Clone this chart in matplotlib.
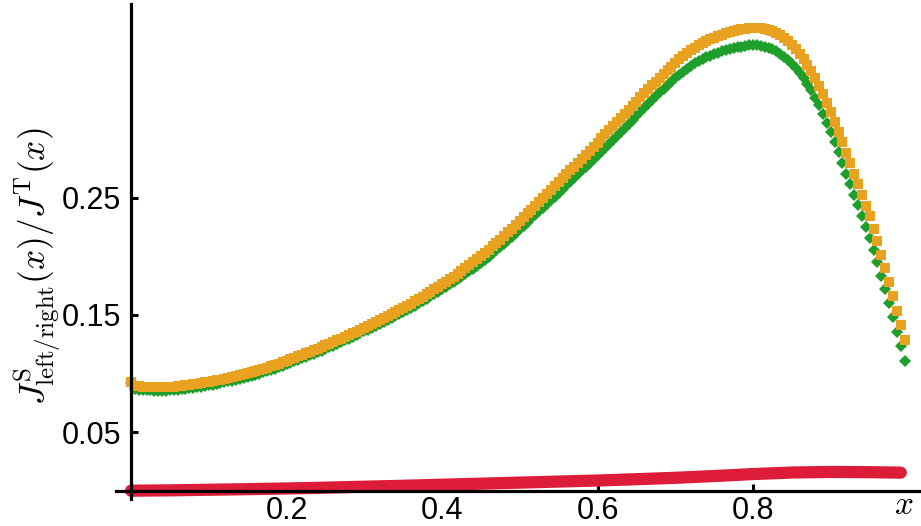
import numpy as np
import matplotlib
matplotlib.use("Agg")
import matplotlib.pyplot as plt

# sample positions (x step 0.005)
x_points = np.round(np.arange(200) * 0.005, 3)

# orange squares (J^S_right / J^T)
orange_vals = [
    0.0930, 0.0897, 0.0891, 0.0888, 0.0886, 0.0885, 0.0884, 0.0884, 0.0884, 0.0884,
    0.0885, 0.0888, 0.0891, 0.0895, 0.0899, 0.0903, 0.0908, 0.0913, 0.0918, 0.0924,
    0.0930, 0.0936, 0.0942, 0.0948, 0.0955, 0.0962, 0.0969, 0.0976, 0.0984, 0.0992,
    0.1000, 0.1009, 0.1019, 0.1029, 0.1039, 0.1050, 0.1061, 0.1072, 0.1084, 0.1096,
    0.1110, 0.1122, 0.1134, 0.1147, 0.1160, 0.1173, 0.1186, 0.1199, 0.1212, 0.1226,
    0.1240, 0.1254, 0.1268, 0.1283, 0.1298, 0.1313, 0.1328, 0.1343, 0.1358, 0.1374,
    0.1390, 0.1406, 0.1422, 0.1438, 0.1455, 0.1472, 0.1489, 0.1506, 0.1524, 0.1542,
    0.1560, 0.1578, 0.1597, 0.1616, 0.1636, 0.1656, 0.1676, 0.1696, 0.1717, 0.1738,
    0.1760, 0.1782, 0.1804, 0.1827, 0.1850, 0.1874, 0.1898, 0.1922, 0.1947, 0.1973,
    0.2000, 0.2027, 0.2055, 0.2084, 0.2113, 0.2143, 0.2173, 0.2204, 0.2235, 0.2267,
    0.2300, 0.2333, 0.2366, 0.2399, 0.2432, 0.2465, 0.2498, 0.2531, 0.2564, 0.2597,
    0.2630, 0.2664, 0.2698, 0.2732, 0.2766, 0.2800, 0.2834, 0.2868, 0.2902, 0.2936,
    0.2970, 0.3005, 0.3040, 0.3075, 0.3110, 0.3145, 0.3180, 0.3215, 0.3250, 0.3285,
    0.3320, 0.3355, 0.3390, 0.3424, 0.3458, 0.3491, 0.3524, 0.3556, 0.3588, 0.3619,
    0.3650, 0.3680, 0.3708, 0.3734, 0.3758, 0.3780, 0.3800, 0.3818, 0.3835, 0.3851,
    0.3865, 0.3878, 0.3890, 0.3901, 0.3911, 0.3920, 0.3928, 0.3936, 0.3943, 0.3948,
    0.3951, 0.3950, 0.3947, 0.3941, 0.3932, 0.3920, 0.3905, 0.3886, 0.3862, 0.3834,
    0.3802, 0.3766, 0.3726, 0.3682, 0.3634, 0.3580, 0.3520, 0.3454, 0.3383, 0.3307,
    0.3228, 0.3146, 0.3061, 0.2974, 0.2885, 0.2795, 0.2704, 0.2614, 0.2523, 0.2431,
    0.2340, 0.2235, 0.2127, 0.2015, 0.1899, 0.1780, 0.1659, 0.1536, 0.1411, 0.1285,
]

# green diamonds (J^S_left / J^T)
green_vals = [
    0.0915, 0.0867, 0.0861, 0.0858, 0.0856, 0.0855, 0.0854, 0.0854, 0.0854, 0.0854,
    0.0855, 0.0858, 0.0861, 0.0865, 0.0869, 0.0873, 0.0878, 0.0883, 0.0888, 0.0894,
    0.0900, 0.0906, 0.0912, 0.0918, 0.0925, 0.0932, 0.0939, 0.0946, 0.0954, 0.0962,
    0.0970, 0.0979, 0.0989, 0.0999, 0.1009, 0.1020, 0.1031, 0.1042, 0.1054, 0.1066,
    0.1080, 0.1092, 0.1104, 0.1117, 0.1130, 0.1143, 0.1156, 0.1169, 0.1182, 0.1196,
    0.1210, 0.1224, 0.1238, 0.1253, 0.1268, 0.1283, 0.1298, 0.1313, 0.1328, 0.1344,
    0.1360, 0.1375, 0.1391, 0.1406, 0.1423, 0.1439, 0.1456, 0.1472, 0.1490, 0.1507,
    0.1525, 0.1542, 0.1561, 0.1579, 0.1599, 0.1618, 0.1638, 0.1657, 0.1678, 0.1698,
    0.1720, 0.1740, 0.1761, 0.1782, 0.1804, 0.1826, 0.1849, 0.1871, 0.1895, 0.1919,
    0.1945, 0.1970, 0.1997, 0.2024, 0.2052, 0.2080, 0.2109, 0.2138, 0.2168, 0.2198,
    0.2230, 0.2261, 0.2292, 0.2323, 0.2354, 0.2385, 0.2416, 0.2447, 0.2478, 0.2509,
    0.2540, 0.2572, 0.2604, 0.2636, 0.2668, 0.2700, 0.2732, 0.2764, 0.2796, 0.2828,
    0.2860, 0.2894, 0.2928, 0.2962, 0.2996, 0.3030, 0.3064, 0.3098, 0.3132, 0.3166,
    0.3200, 0.3234, 0.3268, 0.3301, 0.3334, 0.3366, 0.3398, 0.3429, 0.3460, 0.3490,
    0.3520, 0.3549, 0.3576, 0.3601, 0.3624, 0.3645, 0.3664, 0.3681, 0.3697, 0.3712,
    0.3725, 0.3737, 0.3748, 0.3758, 0.3767, 0.3775, 0.3782, 0.3789, 0.3795, 0.3799,
    0.3801, 0.3799, 0.3795, 0.3788, 0.3778, 0.3765, 0.3749, 0.3729, 0.3704, 0.3675,
    0.3642, 0.3605, 0.3564, 0.3519, 0.3470, 0.3415, 0.3354, 0.3287, 0.3215, 0.3138,
    0.3058, 0.2973, 0.2886, 0.2796, 0.2705, 0.2615, 0.2524, 0.2434, 0.2343, 0.2251,
    0.2160, 0.2055, 0.1947, 0.1835, 0.1719, 0.1600, 0.1479, 0.1356, 0.1231, 0.1105,
]

# red (small) curve
red_x = [0.00, 0.05, 0.10, 0.15, 0.20, 0.25, 0.30, 0.35, 0.40, 0.45, 0.50,
         0.55, 0.60, 0.65, 0.70, 0.75, 0.80, 0.85, 0.90, 0.95, 0.99]
red_vals = [0.0000, 0.0003, 0.0008, 0.0013, 0.0019, 0.0026, 0.0034, 0.0042,
            0.0051, 0.0060, 0.0069, 0.0078, 0.0087, 0.0098, 0.0110, 0.0125,
            0.0142, 0.0155, 0.0160, 0.0158, 0.0154]

x_ticks = [0.2, 0.4, 0.6, 0.8]
x_tick_labels = ["0.2", "0.4", "0.6", "0.8"]
y_ticks = [0.05, 0.15, 0.25]
y_tick_labels = ["0.05", "0.15", "0.25"]

plt.rcParams["font.family"] = ["Liberation Sans", "DejaVu Sans"]
plt.rcParams["mathtext.fontset"] = "cm"

W, H = 921, 526
fig = plt.figure(figsize=(W / 100, H / 100), dpi=100)
ax = fig.add_axes([115.5 / W, (H - 498.9) / H, (W - 115.5) / W, (498.9 - 4.3) / H])

ax.plot(red_x, red_vals, color="#DC1C38", lw=8.8, solid_capstyle="round", zorder=2)
ax.plot(x_points, green_vals, ls="none", marker="D", ms=6.2, mew=0,
        color="#1E9E2A", zorder=2)
ax.plot(x_points, orange_vals, ls="none", marker="s", ms=6.9, mew=0,
        color="#E9A21F", zorder=2.1)

ax.set_xlim(-0.02, 1.016)
ax.set_ylim(-0.007, 0.415)

for s in ["top", "right"]:
    ax.spines[s].set_visible(False)
ax.spines["left"].set_position(("data", 0))
ax.spines["bottom"].set_position(("data", 0))
for s in ["left", "bottom"]:
    ax.spines[s].set_linewidth(2.3)
    ax.spines[s].set_zorder(3)

ax.set_xticks(x_ticks)
ax.set_xticklabels(x_tick_labels)
ax.set_yticks(y_ticks)
ax.set_yticklabels(y_tick_labels)
ax.tick_params(axis="both", direction="in", length=5, width=2.2, labelsize=22)
ax.tick_params(axis="x", pad=4)
ax.tick_params(axis="y", pad=7)

fig.text(904 / W, 1 - 506 / H, r"$x$", fontsize=24, ha="center", va="center")
fig.text(37 / W, 1 - 266 / H,
         r"$J^{\mathrm{S}}_{\mathrm{left/right}}(x)/J^{\mathrm{T}}(x)$",
         fontsize=25.5, rotation=90, ha="center", va="center")

fig.savefig("out.png", dpi=100)
